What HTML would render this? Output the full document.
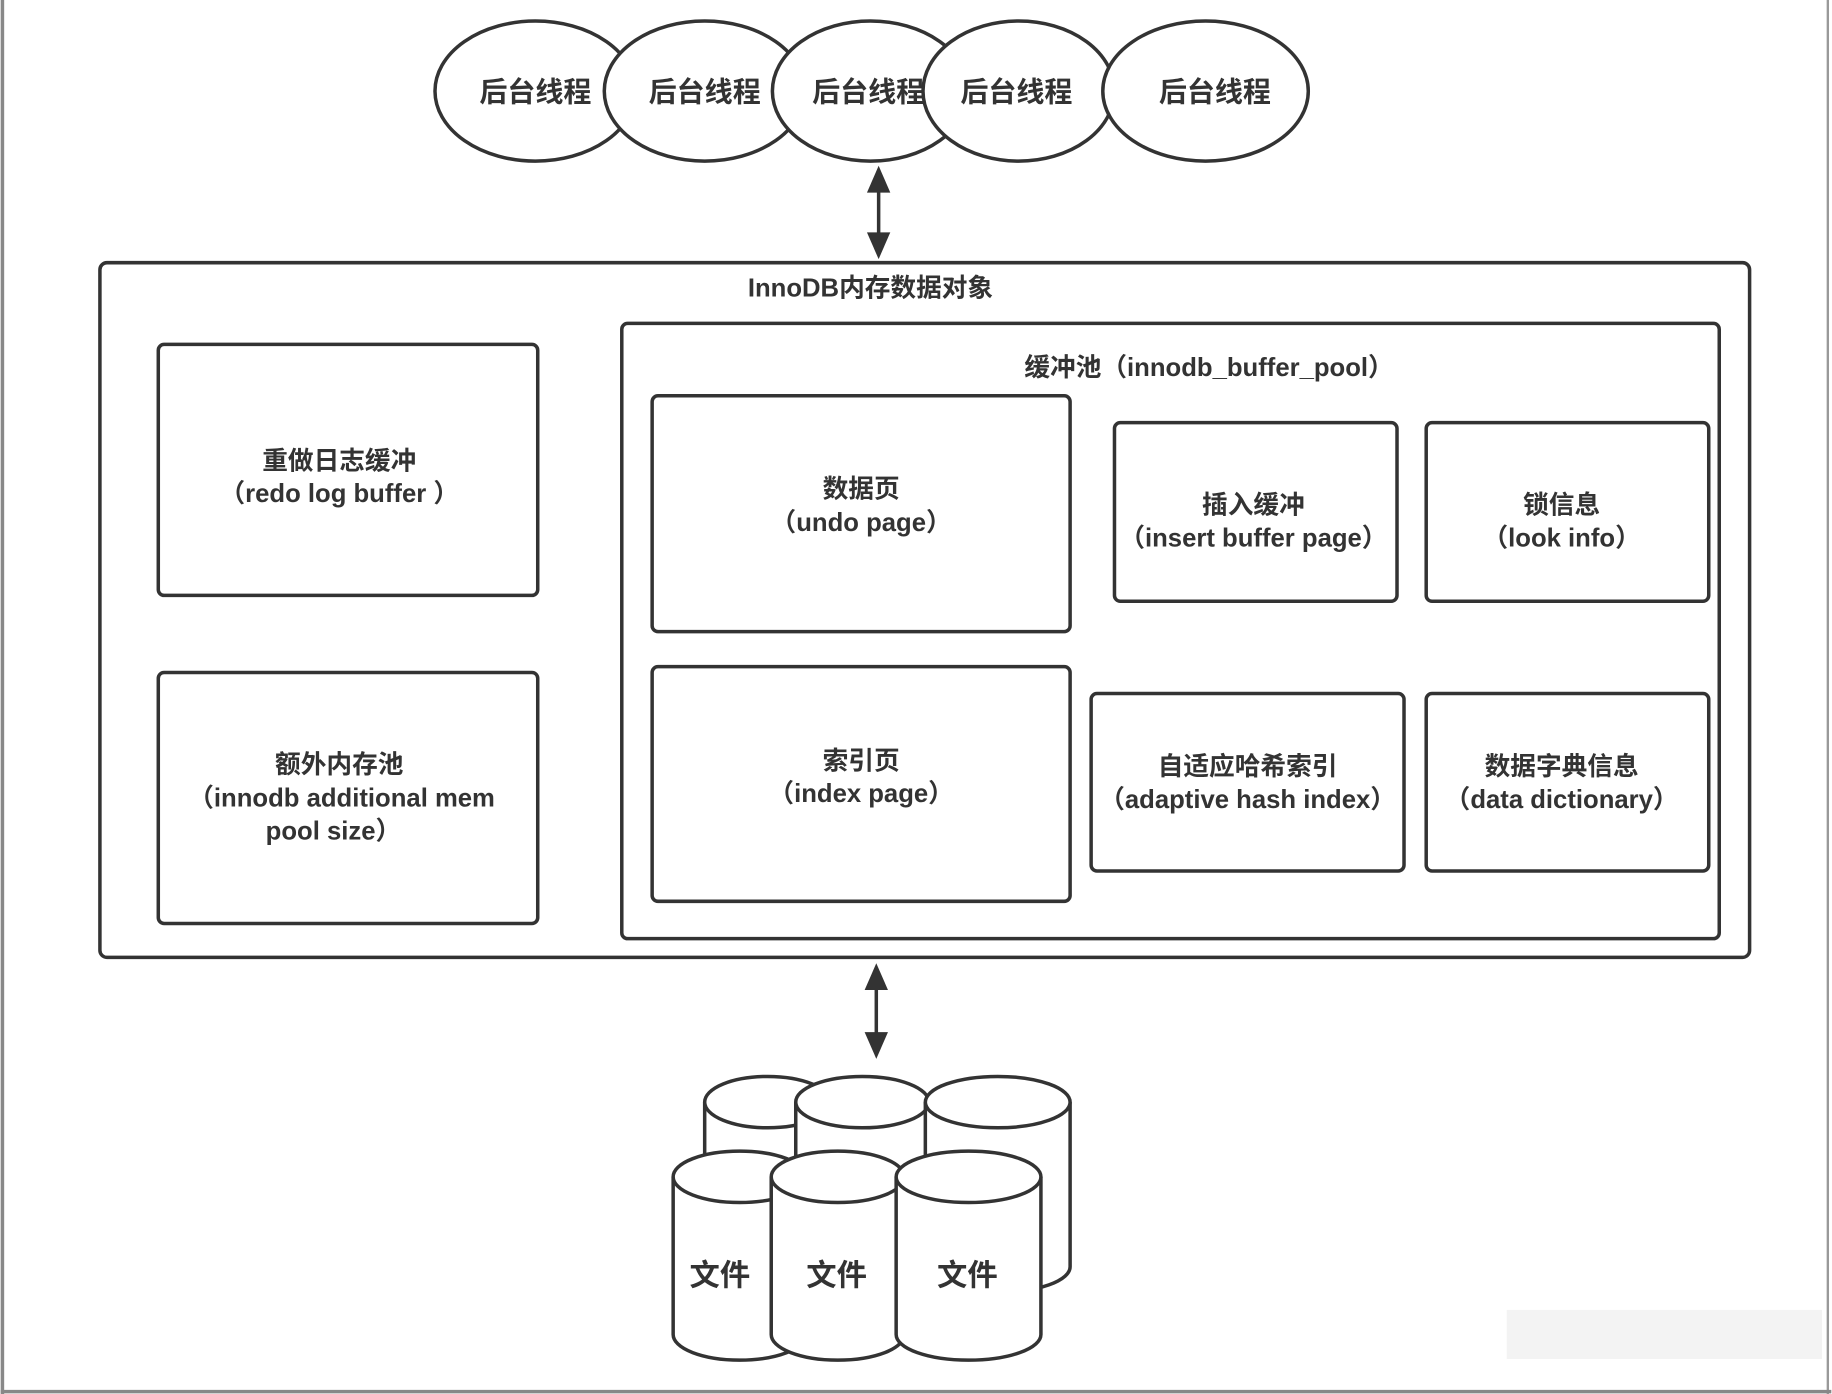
<!DOCTYPE html>
<html><head><meta charset="utf-8"><style>
html,body{margin:0;padding:0;background:#fff;}
svg{display:block;}
text{font-family:"Liberation Sans","Noto Sans CJK SC",sans-serif;font-weight:bold;fill:#333;text-anchor:middle;}
</style></head><body>
<svg width="1832" height="1394" viewBox="0 0 1568 1194" xmlns="http://www.w3.org/2000/svg">
<rect x="0" y="0" width="1568" height="1194" fill="#fff"/>
<rect x="1290" y="1122" width="270" height="42" fill="#f3f3f3"/>
<line x1="1.5" y1="0" x2="1.5" y2="1194" stroke="#888" stroke-width="3"/>
<line x1="1565" y1="0" x2="1565" y2="1194" stroke="#999" stroke-width="2"/>
<line x1="0" y1="1192" x2="1568" y2="1192" stroke="#888" stroke-width="3"/>
<g stroke="#333" stroke-width="3" fill="#fff">
<ellipse cx="458" cy="78" rx="86" ry="60"/>
<ellipse cx="603" cy="78" rx="86" ry="60"/>
<ellipse cx="745" cy="78" rx="84" ry="60"/>
<ellipse cx="872" cy="78" rx="82" ry="60"/>
<ellipse cx="1032" cy="78" rx="88" ry="60"/>
</g>
<g font-size="24">
<text x="458" y="87">后台线程</text>
<text x="603" y="87">后台线程</text>
<text x="743" y="87">后台线程</text>
<text x="870" y="87">后台线程</text>
<text x="1040" y="87">后台线程</text>
</g>
<g stroke="#333" stroke-width="3" fill="none">
<line x1="752" y1="155" x2="752" y2="208"/>
<line x1="750" y1="838" x2="750" y2="892"/>
</g>
<g fill="#333">
<polygon points="752,142 742,165 762,165"/><polygon points="752,222 742,199 762,199"/>
<polygon points="750,825 740,848 760,848"/><polygon points="750,907 740,884 760,884"/>
</g>
<g stroke="#333" stroke-width="3" fill="#fff">
<rect x="85" y="225" width="1413" height="595" rx="6"/>
<rect x="532" y="277" width="940" height="527" rx="5"/>
<rect x="135" y="295" width="325" height="215" rx="5"/>
<rect x="135" y="576" width="325" height="215" rx="5"/>
<rect x="558" y="339" width="358" height="202" rx="5"/>
<rect x="558" y="571" width="358" height="201" rx="5"/>
<rect x="954" y="362" width="242" height="153" rx="5"/>
<rect x="1221" y="362" width="242" height="153" rx="5"/>
<rect x="934" y="594" width="268" height="152" rx="5"/>
<rect x="1221" y="594" width="242" height="152" rx="5"/>
</g>
<g font-size="22">
<text x="745" y="254">InnoDB内存数据对象</text>
<text x="1035" y="322">缓冲池（innodb_buffer_pool）</text>
<text x="290" y="402">重做日志缓冲</text>
<text x="290" y="430">（redo log buffer ）</text>
<text x="290" y="662">额外内存池</text>
<text x="292" y="691">（innodb additional mem</text>
<text x="285" y="719">pool size）</text>
<text x="737" y="426">数据页</text>
<text x="737" y="455">（undo page）</text>
<text x="737" y="659">索引页</text>
<text x="737" y="687">（index page）</text>
<text x="1073" y="440">插入缓冲</text>
<text x="1073" y="468">（insert buffer page）</text>
<text x="1337" y="440">锁信息</text>
<text x="1337" y="468">（look info）</text>
<text x="1068" y="664">自适应哈希索引</text>
<text x="1068" y="692">（adaptive hash index）</text>
<text x="1337" y="664">数据字典信息</text>
<text x="1337" y="692">（data dictionary）</text>
</g>
<g stroke="#333" stroke-width="3" fill="#fff">
<path d="M603,944 L603,1085 A54,22 0 0 0 711,1085 L711,944"/><ellipse cx="657" cy="944" rx="54" ry="22"/>
<path d="M681,944 L681,1085 A57,22 0 0 0 795,1085 L795,944"/><ellipse cx="738" cy="944" rx="57" ry="22"/>
<path d="M792,944 L792,1085 A62,22 0 0 0 916,1085 L916,944"/><ellipse cx="854" cy="944" rx="62" ry="22"/>
<path d="M576,1008 L576,1143 A57,22 0 0 0 690,1143 L690,1008"/><ellipse cx="633" cy="1008" rx="57" ry="22"/>
<path d="M660,1008 L660,1143 A57,22 0 0 0 774,1143 L774,1008"/><ellipse cx="717" cy="1008" rx="57" ry="22"/>
<path d="M767,1008 L767,1143 A62,22 0 0 0 891,1143 L891,1008"/><ellipse cx="829" cy="1008" rx="62" ry="22"/>
</g>
<g font-size="26">
<text x="616" y="1101">文件</text>
<text x="716" y="1101">文件</text>
<text x="828" y="1101">文件</text>
</g>
</svg>
</body></html>
